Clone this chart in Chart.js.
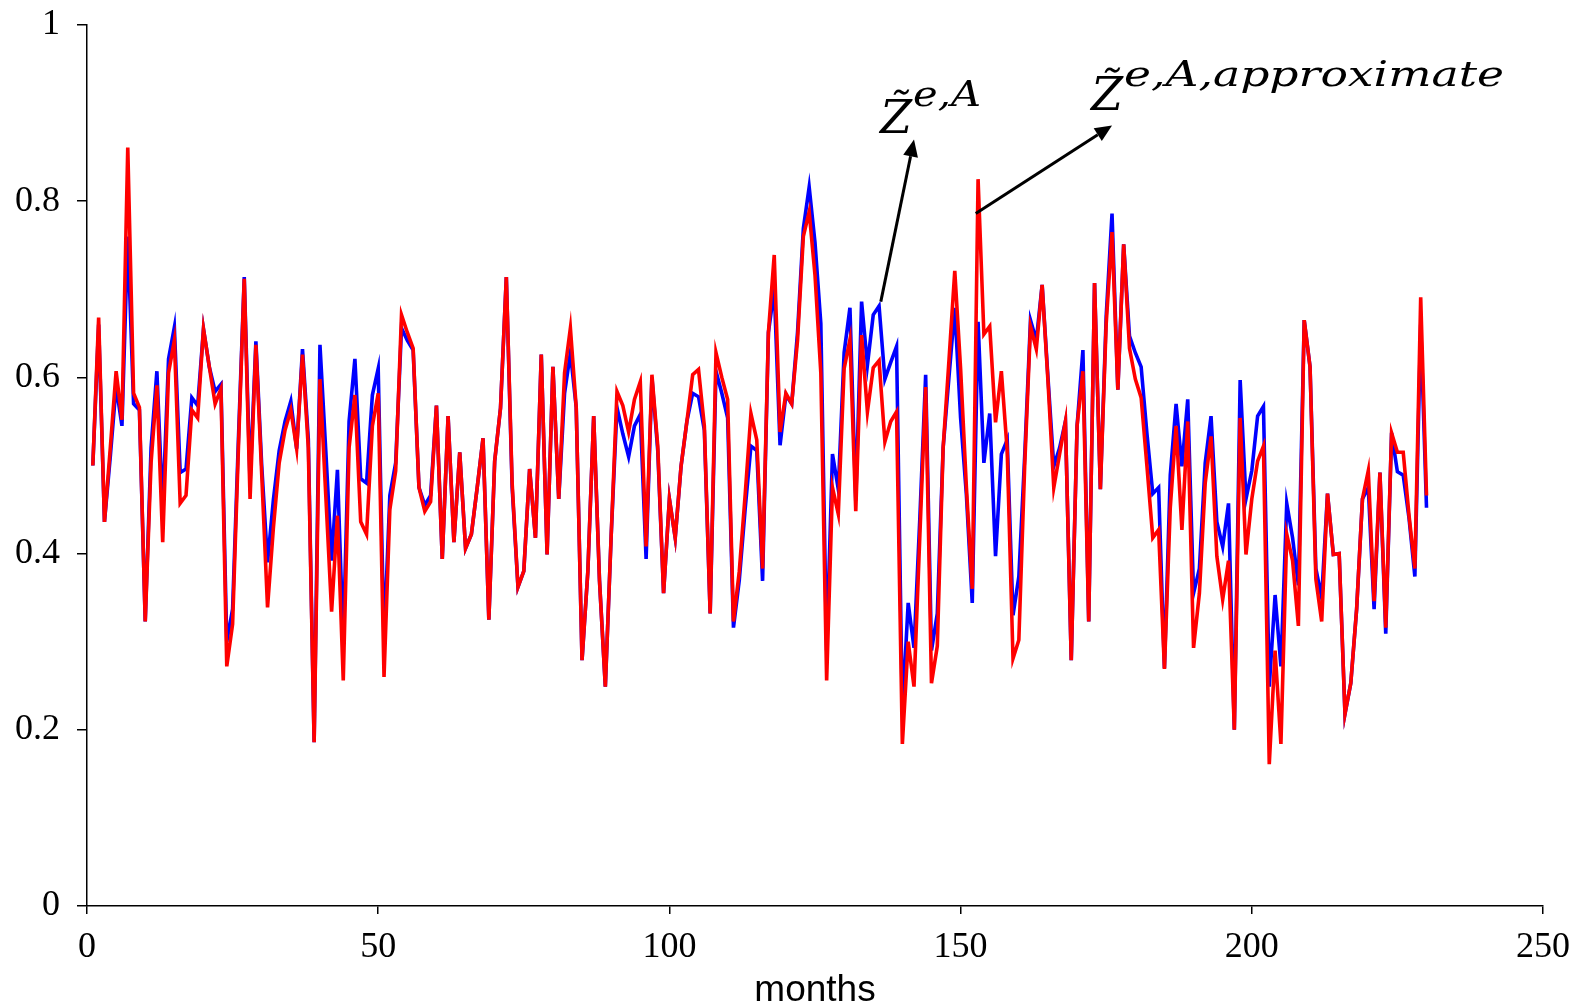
<!DOCTYPE html>
<html><head><meta charset="utf-8">
<script src="https://cdn.jsdelivr.net/npm/chart.js@4/dist/chart.umd.min.js"></script>
<style>html,body{margin:0;padding:0;background:#fff;overflow:hidden}#wrap{width:1574px;height:1005px;position:relative}canvas{display:block}</style>
</head><body>
<div id="wrap"><canvas id="c" width="1574" height="1005"></canvas></div>
<script>
const months = [
  1,2,3,4,5,6,7,8,9,10, 11,12,13,14,15,16,17,18,19,20,
  21,22,23,24,25,26,27,28,29,30, 31,32,33,34,35,36,37,38,39,40,
  41,42,43,44,45,46,47,48,49,50, 51,52,53,54,55,56,57,58,59,60,
  61,62,63,64,65,66,67,68,69,70, 71,72,73,74,75,76,77,78,79,80,
  81,82,83,84,85,86,87,88,89,90, 91,92,93,94,95,96,97,98,99,100,
  101,102,103,104,105,106,107,108,109,110, 111,112,113,114,115,116,117,118,119,120,
  121,122,123,124,125,126,127,128,129,130, 131,132,133,134,135,136,137,138,139,140,
  141,142,143,144,145,146,147,148,149,150, 151,152,153,154,155,156,157,158,159,160,
  161,162,163,164,165,166,167,168,169,170, 171,172,173,174,175,176,177,178,179,180,
  181,182,183,184,185,186,187,188,189,190, 191,192,193,194,195,196,197,198,199,200,
  201,202,203,204,205,206,207,208,209,210, 211,212,213,214,215,216,217,218,219,220,
  221,222,223,224,225,226,227,228,229,230
];

// blue series  Z~ e,A
const zeA = [
  0.500,0.660,0.436,0.510,0.590,0.545,0.760,0.570,0.563,0.323,
  0.520,0.607,0.450,0.621,0.657,0.492,0.496,0.577,0.568,0.655,
  0.612,0.584,0.592,0.300,0.337,0.530,0.714,0.480,0.641,0.500,
  0.390,0.461,0.517,0.550,0.573,0.519,0.632,0.530,0.186,0.637,
  0.517,0.392,0.495,0.300,0.550,0.621,0.485,0.480,0.580,0.610,
  0.300,0.466,0.503,0.656,0.642,0.631,0.475,0.455,0.466,0.568,
  0.394,0.556,0.413,0.515,0.406,0.422,0.475,0.531,0.325,0.505,
  0.565,0.714,0.475,0.362,0.380,0.496,0.418,0.626,0.399,0.612,
  0.462,0.582,0.628,0.566,0.279,0.380,0.556,0.369,0.249,0.420,
  0.566,0.536,0.510,0.545,0.558,0.394,0.600,0.517,0.355,0.462,
  0.418,0.499,0.550,0.582,0.578,0.540,0.332,0.607,0.582,0.554,
  0.316,0.370,0.450,0.522,0.517,0.369,0.651,0.700,0.523,0.580,
  0.570,0.651,0.769,0.816,0.753,0.661,0.290,0.513,0.473,0.628,
  0.679,0.460,0.686,0.614,0.671,0.681,0.598,0.617,0.635,0.220,
  0.344,0.293,0.440,0.603,0.290,0.332,0.520,0.600,0.679,0.554,
  0.466,0.344,0.663,0.503,0.559,0.397,0.513,0.529,0.330,0.374,
  0.510,0.665,0.642,0.705,0.600,0.499,0.520,0.550,0.279,0.545,
  0.631,0.323,0.707,0.473,0.670,0.786,0.586,0.751,0.647,0.628,
  0.612,0.536,0.468,0.475,0.270,0.489,0.570,0.499,0.575,0.355,
  0.383,0.503,0.556,0.436,0.408,0.457,0.200,0.597,0.462,0.494,
  0.556,0.567,0.249,0.353,0.272,0.457,0.418,0.364,0.665,0.612,
  0.383,0.350,0.468,0.399,0.400,0.218,0.253,0.337,0.462,0.475,
  0.337,0.492,0.309,0.537,0.493,0.489,0.440,0.374,0.660,0.452
];

// red series  Z~ e,A,approximate
const zeAapprox = [
  0.500,0.668,0.436,0.520,0.607,0.552,0.861,0.582,0.566,0.323,
  0.503,0.591,0.413,0.605,0.642,0.457,0.466,0.563,0.554,0.655,
  0.612,0.570,0.587,0.272,0.320,0.520,0.712,0.462,0.637,0.490,
  0.339,0.429,0.503,0.540,0.563,0.519,0.626,0.520,0.186,0.598,
  0.466,0.334,0.443,0.256,0.520,0.580,0.436,0.422,0.545,0.582,
  0.260,0.450,0.494,0.671,0.651,0.633,0.475,0.448,0.459,0.568,
  0.394,0.556,0.413,0.515,0.406,0.422,0.475,0.531,0.325,0.505,
  0.565,0.714,0.480,0.362,0.380,0.496,0.418,0.626,0.399,0.612,
  0.462,0.605,0.656,0.566,0.279,0.380,0.556,0.369,0.249,0.420,
  0.584,0.568,0.538,0.575,0.595,0.408,0.603,0.522,0.355,0.462,
  0.418,0.499,0.550,0.603,0.609,0.545,0.332,0.628,0.600,0.575,
  0.323,0.380,0.466,0.559,0.529,0.383,0.651,0.739,0.538,0.582,
  0.570,0.642,0.760,0.788,0.716,0.605,0.256,0.475,0.445,0.610,
  0.643,0.448,0.648,0.561,0.611,0.619,0.527,0.550,0.561,0.184,
  0.300,0.249,0.420,0.589,0.253,0.295,0.520,0.619,0.721,0.610,
  0.475,0.360,0.825,0.649,0.658,0.549,0.607,0.517,0.281,0.302,
  0.499,0.658,0.632,0.705,0.596,0.475,0.513,0.550,0.279,0.545,
  0.607,0.323,0.707,0.473,0.661,0.765,0.586,0.751,0.633,0.598,
  0.577,0.499,0.418,0.427,0.269,0.452,0.545,0.427,0.550,0.293,
  0.355,0.480,0.533,0.397,0.348,0.392,0.200,0.554,0.399,0.462,
  0.505,0.522,0.161,0.290,0.184,0.422,0.392,0.318,0.665,0.612,
  0.371,0.323,0.468,0.399,0.400,0.218,0.253,0.337,0.462,0.494,
  0.346,0.492,0.316,0.537,0.515,0.515,0.443,0.383,0.691,0.466
];

const xTicks = [0, 50, 100, 150, 200, 250];
const xTickLabels = ['0', '50', '100', '150', '200', '250'];
const yTicks = [0, 0.2, 0.4, 0.6, 0.8, 1];
const yTickLabels = ['0', '0.2', '0.4', '0.6', '0.8', '1'];
const xTitle = 'months';
const labelBase = 'Z\u0303';
const labelSupExact = 'e,A';
const labelSupApprox = 'e,A,approximate';

const annotPlugin = {
  id: 'annot',
  afterDatasetsDraw(chart) {
    const {ctx, scales: {x, y}} = chart;
    ctx.save();
    ctx.strokeStyle = '#000';
    ctx.fillStyle = '#000';
    ctx.lineWidth = 3;
    const arrow = (m0, v0, m1, v1) => {
      const x0 = x.getPixelForValue(m0), y0 = y.getPixelForValue(v0);
      const x1 = x.getPixelForValue(m1), y1 = y.getPixelForValue(v1);
      const a = Math.atan2(y1 - y0, x1 - x0);
      const L = 17, W = 7.5;
      const bx = x1 - L * Math.cos(a), by = y1 - L * Math.sin(a);
      ctx.beginPath(); ctx.moveTo(x0, y0); ctx.lineTo(bx, by); ctx.stroke();
      ctx.beginPath(); ctx.moveTo(x1, y1);
      ctx.lineTo(bx + W * Math.sin(a), by - W * Math.cos(a));
      ctx.lineTo(bx - W * Math.sin(a), by + W * Math.cos(a));
      ctx.closePath(); ctx.fill();
    };
    arrow(136.3, 0.686, 142.0, 0.870);
    arrow(152.6, 0.786, 176.0, 0.886);

    const label = (zx, zBase, zW, sx, sxEnd, sBase, sup) => {
      ctx.textAlign = 'left';
      ctx.textBaseline = 'alphabetic';
      ctx.font = "italic 47px 'DejaVu Serif'";
      let w = ctx.measureText(labelBase).width;
      ctx.save(); ctx.translate(zx, zBase); ctx.scale(zW / w, 1); ctx.fillText(labelBase, 0, 0); ctx.restore();
      ctx.font = "italic 36px 'DejaVu Serif'";
      w = ctx.measureText(sup).width;
      ctx.save(); ctx.translate(sx, sBase); ctx.scale((sxEnd - sx) / w, 1); ctx.fillText(sup, 0, 0); ctx.restore();
    };
    label(880, 132.5, 32, 913, 981, 106.4, labelSupExact);
    label(1091, 110.4, 32, 1124, 1504, 86.3, labelSupApprox);
    ctx.restore();
  }
};

const tickFont = {family: "'Liberation Serif'", size: 36};

new Chart(document.getElementById('c'), {
  type: 'line',
  data: {
    datasets: [
      {
        label: labelBase + labelSupApprox,
        data: months.map((m, i) => ({x: m, y: zeAapprox[i]})),
        borderColor: '#FF0000', backgroundColor: '#FF0000',
        borderWidth: 3.6, pointRadius: 0, tension: 0, fill: false
      },
      {
        label: labelBase + labelSupExact,
        data: months.map((m, i) => ({x: m, y: zeA[i]})),
        borderColor: '#0000FF', backgroundColor: '#0000FF',
        borderWidth: 3.6, pointRadius: 0, tension: 0, fill: false
      }
    ]
  },
  options: {
    responsive: false,
    animation: false,
    layout: {padding: {left: 0, top: 25, right: 31, bottom: 0}},
    plugins: {legend: {display: false}, tooltip: {enabled: false}},
    scales: {
      x: {
        type: 'linear', min: 0, max: 250, position: 'bottom',
        afterBuildTicks: s => { s.ticks = xTicks.map(v => ({value: v})); },
        afterFit: s => { s.height = 99; s.paddingLeft = 0; s.paddingRight = 0; },
        ticks: {font: tickFont, color: '#000', padding: 12, maxRotation: 0, autoSkip: false,
                callback: (v) => xTickLabels[xTicks.indexOf(v)]},
        grid: {drawOnChartArea: false, drawTicks: true, tickLength: 8, color: '#000', lineWidth: 1.5},
        border: {display: true, color: '#000', width: 1.5},
        title: {display: true, text: xTitle, color: '#000',
                font: {family: "'Liberation Sans'", size: 37, lineHeight: 0.75}, padding: {top: 0, bottom: 0}}
      },
      y: {
        type: 'linear', min: 0, max: 1,
        afterBuildTicks: s => { s.ticks = yTicks.map(v => ({value: v})); },
        afterFit: s => { s.width = 87; s.paddingTop = 0; s.paddingBottom = 0; },
        ticks: {font: tickFont, color: '#000', padding: 17,
                callback: (v) => yTickLabels[yTicks.indexOf(v)]},
        grid: {drawOnChartArea: false, drawTicks: true, tickLength: 10, color: '#000', lineWidth: 1.5},
        border: {display: true, color: '#000', width: 1.5}
      }
    }
  },
  plugins: [annotPlugin]
});
</script>
</body></html>
